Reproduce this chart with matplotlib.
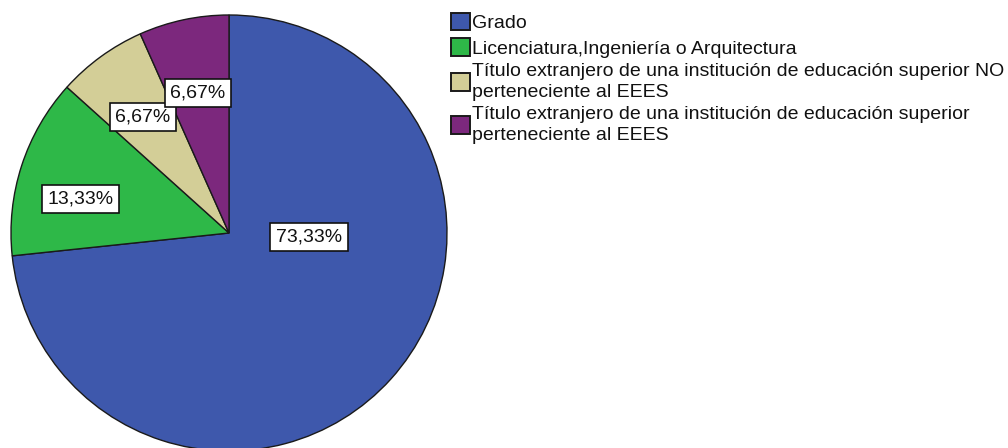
import matplotlib
matplotlib.use("Agg")
import matplotlib.pyplot as plt
import numpy as np

plt.rcParams['font.family'] = ['Liberation Sans', 'DejaVu Sans']

categorias = ["Grado",
              "Licenciatura,Ingeniería o Arquitectura",
              "Título extranjero de una institución de educación superior NO\nperteneciente al EEES",
              "Título extranjero de una institución de educación superior\nperteneciente al EEES"]
porcentajes = [73.33, 13.33, 6.67, 6.67]
etiquetas = ["73,33%", "13,33%", "6,67%", "6,67%"]
colores = ["#3E58AC", "#2EB848", "#D3CE97", "#7C287D"]

# posicion de las etiquetas (fraccion del radio, respecto al centro)
pos_etq = [(0.367, -0.018), (-0.683, 0.156), (-0.394, 0.532), (-0.142, 0.642)]

W, H = 1008, 448
fig = plt.figure(figsize=(W / 100, H / 100), dpi=100)
ax = fig.add_axes([0, 0, 1, 1])

cx, cy, R = 229, H - 233, 218
wedges, _ = ax.pie(porcentajes, colors=colores, startangle=90, counterclock=False,
                   center=(cx, cy), radius=R, frame=True,
                   wedgeprops=dict(edgecolor="#1a1a1a", linewidth=1))
ax.set_xlim(0, W)
ax.set_ylim(0, H)
ax.set_aspect("equal")
ax.axis("off")

for txt, (dx, dy) in zip(etiquetas, pos_etq):
    ax.text(cx + dx * R, cy + dy * R, txt, ha="center", va="center", fontsize=14,
            color="#111111",
            bbox=dict(boxstyle="square,pad=0.28", facecolor="white", edgecolor="#111111", linewidth=1.2))

leg = fig.legend(wedges, categorias, loc="upper left",
                 bbox_to_anchor=(451 / W, 1 - 13 / H), frameon=False,
                 fontsize=14, handlelength=1.0, handleheight=1.0,
                 handletextpad=0.08, labelspacing=0.3, borderpad=0, borderaxespad=0)
for t in leg.get_texts():
    t.set_linespacing(1.25)
    t.set_color("#111111")
for h in leg.legend_handles:
    h.set_edgecolor("#1a1a1a")
    h.set_linewidth(1.4)

fig.savefig("out.png", dpi=100)
